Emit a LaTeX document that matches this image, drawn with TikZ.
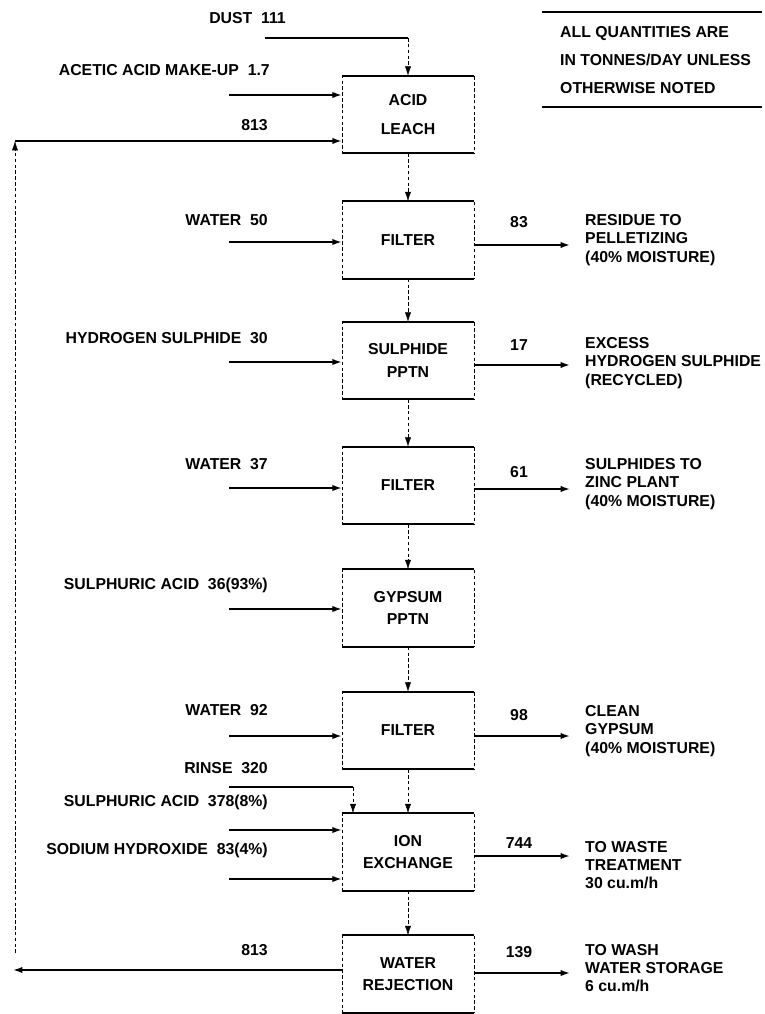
\documentclass[tikz,border=0pt]{standalone}
\usepackage{fontspec}
\setmainfont{Liberation Sans}
\usetikzlibrary{arrows.meta,positioning}

\begin{document}
\begin{tikzpicture}[x=0.3mm, y=-0.3mm,
    every node/.style={font=\bfseries\fontsize{13.5}{15.5}\selectfont, inner sep=0pt},
    unit/.style={draw, densely dashed, thin, minimum width=39.6mm, minimum height=23.1mm,
        align=center, font=\bfseries\fontsize{13.5}{19}\selectfont},
    edge/.style={line width=1.4pt},
    flow/.style={line width=1.4pt, -{Latex[length=2.8mm,width=1.9mm]}},
    drop/.style={densely dashed, thin, -{Latex[length=2.8mm,width=1.8mm]}}]
    \useasboundingbox (0,0) rectangle (764,1014);

    % note
    \node[anchor=west, align=left, font=\bfseries\fontsize{13.5}{24}\selectfont] (note) at (560,60)
        {ALL QUANTITIES ARE\\IN TONNES/DAY UNLESS\\OTHERWISE NOTED};
    \draw[line width=1pt] (542,12) -- (762,12);
    \draw[line width=1pt] (542,107) -- (762,107);

    % process units
    \node[unit] (acid)  at (408,114.5) {ACID\\[6pt]LEACH};
    \node[unit] (filt1) at (408,240)   {FILTER};
    \node[unit] (sulph) at (408,360.5) {SULPHIDE\\PPTN};
    \node[unit] (filt2) at (408,485.5) {FILTER};
    \node[unit] (gyp)   at (408,608)   {GYPSUM\\PPTN};
    \node[unit] (filt3) at (408,730.5) {FILTER};
    \node[unit] (ion)   at (408,852)   {ION\\EXCHANGE};
    \node[unit] (wrej)  at (408,974)   {WATER\\REJECTION};
    \foreach \u in {acid,filt1,sulph,filt2,gyp,filt3,ion,wrej}
        \draw[edge] (\u.north west) -- (\u.north east) (\u.south west) -- (\u.south east);

    % main stream
    \draw[drop] (acid) -- (filt1);
    \draw[drop] (filt1) -- (sulph);
    \draw[drop] (sulph) -- (filt2);
    \draw[drop] (filt2) -- (gyp);
    \draw[drop] (gyp) -- (filt3);
    \draw[drop] (filt3) -- (ion);
    \draw[drop] (ion) -- (wrej);

    % feeds
    \node[anchor=east] (dust) at (286,18) {DUST\ \ 111};
    \coordinate (dusts) at (265,38);
    \coordinate (dustc) at (dusts -| acid);
    \draw[edge] (dusts) -- (dustc);
    \draw[drop] (dustc) -- (acid.north);

    \node[anchor=east] (acetic) at (270,70) {ACETIC ACID MAKE-UP\ \ 1.7};
    \coordinate (acetics) at (229,95);
    \draw[flow] (acetics) -- (acetics -| acid.west);

    \node[anchor=east] (ret1) at (268,125) {813};
    \coordinate (looptop) at (15,141);
    \coordinate (loopbot) at (15,953);
    \draw[drop] (loopbot) -- (looptop);
    \draw[flow] (looptop) -- (looptop -| acid.west);

    \node[anchor=east] (wat1) at (268,220) {WATER\ \ 50};
    \coordinate (wat1s) at (229,242);
    \draw[flow] (wat1s) -- (wat1s -| filt1.west);

    \node[anchor=east] (hyd) at (268,338) {HYDROGEN SULPHIDE\ \ 30};
    \coordinate (hyds) at (229,362);
    \draw[flow] (hyds) -- (hyds -| sulph.west);

    \node[anchor=east] (wat2) at (268,464) {WATER\ \ 37};
    \coordinate (wat2s) at (229,488);
    \draw[flow] (wat2s) -- (wat2s -| filt2.west);

    \node[anchor=east] (sacid1) at (268,585) {SULPHURIC ACID\ \ 36(93\%)};
    \coordinate (sacid1s) at (229,609);
    \draw[flow] (sacid1s) -- (sacid1s -| gyp.west);

    \node[anchor=east] (wat3) at (268,710) {WATER\ \ 92};
    \coordinate (wat3s) at (229,736);
    \draw[flow] (wat3s) -- (wat3s -| filt3.west);

    \node[anchor=east] (rinse) at (268,768) {RINSE\ \ 320};
    \coordinate (rinses) at (229,787);
    \coordinate (rinsec) at (353,787);
    \draw[edge] (rinses) -- (rinsec);
    \draw[drop] (rinsec) -- (rinsec |- ion.north);

    \node[anchor=east] (sacid2) at (268,802) {SULPHURIC ACID\ \ 378(8\%)};
    \coordinate (sacid2s) at (229,830);
    \draw[flow] (sacid2s) -- (sacid2s -| ion.west);

    \node[anchor=east] (naoh) at (268,850) {SODIUM HYDROXIDE\ \ 83(4\%)};
    \coordinate (naohs) at (229,879);
    \draw[flow] (naohs) -- (naohs -| ion.west);

    \node[anchor=east] (ret2) at (268,950) {813};
    \coordinate (rete) at (13,970);
    \draw[flow] (wrej.west |- rete) -- (rete);

    % products
    \node (q83) at (519,222) {83};
    \coordinate (res1e) at (570,245);
    \draw[flow] (filt1.east |- res1e) -- (res1e);
    \node[anchor=west, align=left] (res1) at (585,240) {RESIDUE TO\\PELLETIZING\\(40\% MOISTURE)};

    \node (q17) at (519,345) {17};
    \coordinate (h2se) at (570,365);
    \draw[flow] (sulph.east |- h2se) -- (h2se);
    \node[anchor=west, align=left] (h2s) at (585,363) {EXCESS\\HYDROGEN SULPHIDE\\(RECYCLED)};

    \node (q61) at (519,472) {61};
    \coordinate (zince) at (570,489);
    \draw[flow] (filt2.east |- zince) -- (zince);
    \node[anchor=west, align=left] (zinc) at (585,484) {SULPHIDES TO\\ZINC PLANT\\(40\% MOISTURE)};

    \node (q98) at (519,715) {98};
    \coordinate (gypse) at (570,736);
    \draw[flow] (filt3.east |- gypse) -- (gypse);
    \node[anchor=west, align=left] (gyps) at (585,731) {CLEAN\\GYPSUM\\(40\% MOISTURE)};

    \node (q744) at (519,843) {744};
    \coordinate (waste) at (570,856);
    \draw[flow] (ion.east |- waste) -- (waste);
    \node[anchor=west, align=left] (wastel) at (585,865) {TO WASTE\\TREATMENT\\30 cu.m/h};

    \node (q139) at (519,952) {139};
    \coordinate (washe) at (570,973);
    \draw[flow] (wrej.east |- washe) -- (washe);
    \node[anchor=west, align=left] (wash) at (585,968) {TO WASH\\WATER STORAGE\\6 cu.m/h};
\end{tikzpicture}
\end{document}
